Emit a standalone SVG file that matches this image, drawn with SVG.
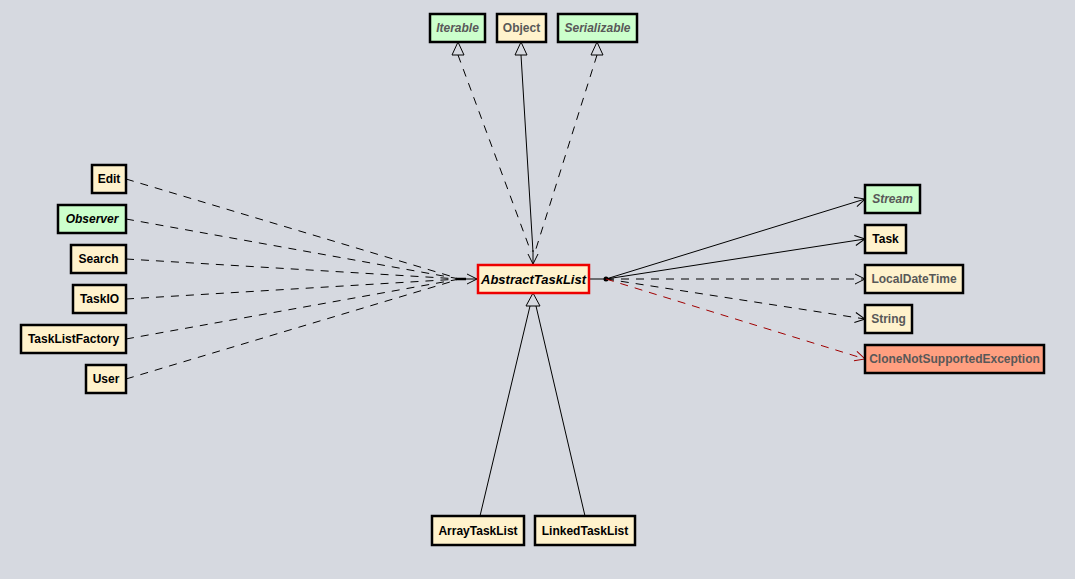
<svg xmlns="http://www.w3.org/2000/svg" width="1075" height="579" viewBox="0 0 1075 579">
<defs>
<marker id="arr" markerUnits="userSpaceOnUse" markerWidth="12" markerHeight="12" refX="10" refY="5" orient="auto" overflow="visible">
<path d="M0,0 L10,5 L0,10" fill="none" stroke="#000" stroke-width="1"/>
</marker>
<marker id="arrRed" markerUnits="userSpaceOnUse" markerWidth="12" markerHeight="12" refX="10" refY="5" orient="auto" overflow="visible">
<path d="M0,0 L10,5 L0,10" fill="none" stroke="#a00000" stroke-width="1"/>
</marker>
</defs>
<style>
.bg{fill:#d6d9e0}
rect.box{stroke:#000;stroke-width:2.5}
.beige{fill:#fff2cc}
.green{fill:#ccffcc}
.salmon{fill:#ff9f80}
.main{fill:#fff2cc;stroke:#ee0000;stroke-width:2.5}
text{font-family:"Liberation Sans",Arial,sans-serif;font-weight:bold;font-size:12px;text-anchor:middle;dominant-baseline:central}
.lib{fill:#585858}
.it{font-style:italic}
.solid{stroke:#000;stroke-width:1;fill:none}
.dash{stroke:#000;stroke-width:1;fill:none;stroke-dasharray:8,7}
.dashred{stroke:#a00000;stroke-width:1;fill:none;stroke-dasharray:8,7}
.tri{fill:#d6d9e0;stroke:#000;stroke-width:1}
</style>
<rect class="bg" x="0" y="0" width="1075" height="579"/>
<g id="connectors">
<line class="dash" x1="458" y1="55" x2="531" y2="252"/>
<line class="solid" x1="521" y1="55" x2="533" y2="252"/>
<line class="dash" x1="597" y1="55" x2="535" y2="252"/>
<line class="solid" x1="533" y1="250" x2="533" y2="264" marker-end="url(#arr)"/>
<polygon class="tri" points="458,42 452,55 464,55"/>
<polygon class="tri" points="521,42 515,55 527,55"/>
<polygon class="tri" points="597,42 591,55 603,55"/>
<path class="dash" d="M126,179 L460,279"/>
<path class="dash" d="M126,219 L460,279"/>
<path class="dash" d="M126,259 L460,279"/>
<path class="dash" d="M126,299 L460,279"/>
<path class="dash" d="M126,339 L460,279"/>
<path class="dash" d="M126,379 L460,279"/>
<line class="solid" x1="458" y1="279" x2="477" y2="279" marker-end="url(#arr)"/>
<line x1="458" y1="279" x2="466" y2="279" stroke="#000" stroke-width="2.5"/>
<line class="solid" x1="589" y1="279" x2="606" y2="279"/>
<circle cx="606" cy="279" r="2.5" fill="#000"/>
<line class="solid" x1="606" y1="279" x2="865" y2="199" marker-end="url(#arr)"/>
<line class="solid" x1="606" y1="279" x2="865" y2="239" marker-end="url(#arr)"/>
<line class="dash" x1="606" y1="279" x2="865" y2="279" marker-end="url(#arr)"/>
<line class="dash" x1="606" y1="279" x2="865" y2="319" marker-end="url(#arr)"/>
<line class="dashred" x1="606" y1="279" x2="865" y2="359" marker-end="url(#arrRed)"/>
<line class="solid" x1="480" y1="516" x2="530" y2="306"/>
<line class="solid" x1="585" y1="516" x2="536" y2="306"/>
<polygon class="tri" points="533,293 526,306 540,306"/>
</g>
<g id="Iterable"><rect class="box green" x="430" y="14" width="55" height="28"/><text class="lib it" x="457.5" y="28">Iterable</text></g>
<g id="Object"><rect class="box beige" x="497" y="14" width="49" height="28"/><text class="lib" x="521.5" y="28">Object</text></g>
<g id="Serializable"><rect class="box green" x="558" y="14" width="79" height="28"/><text class="lib it" x="597.5" y="28">Serializable</text></g>
<g id="Edit"><rect class="box beige" x="92" y="165" width="34" height="28"/><text x="109" y="179">Edit</text></g>
<g id="Observer"><rect class="box green" x="58" y="205" width="68" height="28"/><text class="it" x="92" y="219">Observer</text></g>
<g id="Search"><rect class="box beige" x="71" y="245" width="55" height="28"/><text x="98.5" y="259">Search</text></g>
<g id="TaskIO"><rect class="box beige" x="73" y="285" width="53" height="28"/><text x="99.5" y="299">TaskIO</text></g>
<g id="TaskListFactory"><rect class="box beige" x="21" y="325" width="105" height="28"/><text x="73.5" y="339">TaskListFactory</text></g>
<g id="User"><rect class="box beige" x="86" y="365" width="40" height="28"/><text x="106" y="379">User</text></g>
<g id="AbstractTaskList"><rect class="main" x="478" y="265" width="111" height="28"/><text class="it" x="533.5" y="279" style="font-size:13px">AbstractTaskList</text></g>
<g id="Stream"><rect class="box green" x="865" y="185" width="55" height="28"/><text class="lib it" x="892.5" y="199">Stream</text></g>
<g id="Task"><rect class="box beige" x="865" y="225" width="41" height="28"/><text x="885.5" y="239">Task</text></g>
<g id="LocalDateTime"><rect class="box beige" x="865" y="265" width="98" height="28"/><text class="lib" x="914" y="279">LocalDateTime</text></g>
<g id="String"><rect class="box beige" x="865" y="305" width="47" height="28"/><text class="lib" x="888.5" y="319">String</text></g>
<g id="CloneNotSupportedException"><rect class="box salmon" x="865" y="345" width="179" height="28"/><text class="lib" x="954.5" y="359">CloneNotSupportedException</text></g>
<g id="ArrayTaskList"><rect class="box beige" x="432" y="516" width="92" height="29"/><text x="478" y="530.5">ArrayTaskList</text></g>
<g id="LinkedTaskList"><rect class="box beige" x="535" y="516" width="100" height="29"/><text x="585" y="530.5">LinkedTaskList</text></g>
</svg>
